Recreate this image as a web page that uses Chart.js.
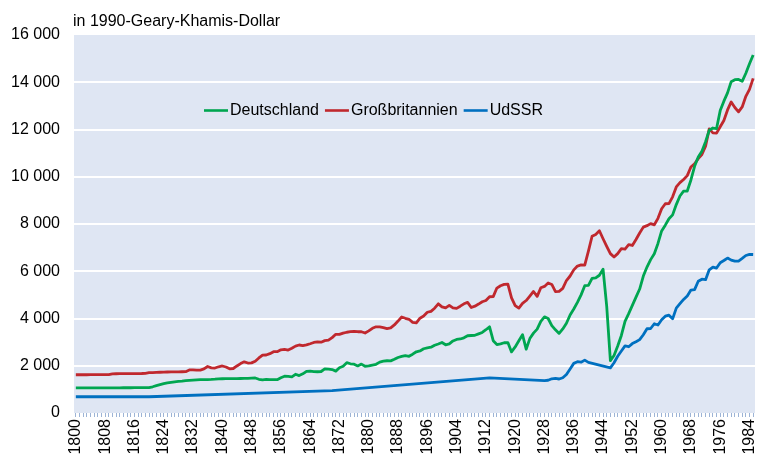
<!DOCTYPE html>
<html>
<head>
<meta charset="utf-8">
<script src="https://cdn.jsdelivr.net/npm/chart.js@4"></script>
<style>
  body { margin: 0; background: #fff; }
  canvas { display: block; }
</style>
</head>
<body>
<canvas id="myChart" width="758" height="459"></canvas>
<script>
// years 1800..1985, one category per year
const years = [];
for (let y = 1800; y <= 1985; y++) years.push(String(y));

// BIP pro Kopf, in 1990-Geary-Khamis-Dollar
const deutschland = [
  1060, 1060, 1060, 1060, 1060, 1062, 1062, 1062, 1062, 1065,   // 1800
  1065, 1065, 1065, 1068, 1068, 1068, 1070, 1070, 1072, 1075,   // 1810
  1077, 1110, 1158, 1200, 1240, 1271, 1295, 1318, 1335, 1350,   // 1820
  1370, 1384, 1395, 1405, 1410, 1412, 1415, 1420, 1430, 1445,   // 1830
  1450, 1452, 1455, 1455, 1458, 1460, 1462, 1468, 1475, 1483,   // 1840
  1428, 1400, 1419, 1414, 1414, 1410, 1491, 1556, 1546, 1532,   // 1850
  1639, 1583, 1657, 1764, 1774, 1754, 1746, 1757, 1869, 1858,   // 1860
  1839, 1773, 1914, 1982, 2132, 2083, 2066, 1992, 2069, 1978,   // 1870
  1991, 2027, 2063, 2152, 2194, 2212, 2205, 2272, 2350, 2395,   // 1880
  2428, 2400, 2489, 2592, 2627, 2719, 2759, 2784, 2869, 2921,   // 1890
  2985, 2888, 2925, 3050, 3114, 3133, 3183, 3269, 3281, 3290,   // 1900
  3348, 3408, 3524, 3648, 3059, 2899, 2926, 2973, 2983, 2586,   // 1910
  2796, 3055, 3315, 2700, 3150, 3380, 3550, 3880, 4070, 4000,   // 1920
  3700, 3520, 3370, 3560, 3800, 4150, 4400, 4680, 5000, 5390,   // 1930
  5400, 5700, 5720, 5830, 6090, 4514, 2217, 2436, 2834, 3282,   // 1940
  3881, 4206, 4553, 4905, 5247, 5797, 6177, 6492, 6737, 7177,   // 1950
  7705, 7952, 8222, 8386, 8822, 9186, 9388, 9397, 9864, 10440,  // 1960
  10839, 11077, 11481, 11966, 12063, 12041, 12800, 13200, 13550, 14025, // 1970
  14110, 14120, 14040, 14380, 14780, 15150                      // 1980
];

const grossbritannien = [
  1620, 1620, 1620, 1620, 1622, 1622, 1622, 1625, 1625, 1625,   // 1800
  1660, 1662, 1665, 1666, 1666, 1668, 1668, 1670, 1672, 1680,   // 1810
  1706, 1712, 1718, 1725, 1730, 1735, 1738, 1740, 1742, 1745,   // 1820
  1749, 1822, 1829, 1815, 1816, 1866, 1968, 1911, 1903, 1957,   // 1830
  1990, 1948, 1868, 1883, 1991, 2091, 2166, 2115, 2121, 2191,   // 1840
  2330, 2451, 2454, 2512, 2596, 2595, 2673, 2691, 2663, 2740,   // 1850
  2830, 2878, 2854, 2882, 2932, 2986, 3013, 2997, 3064, 3082,   // 1860
  3190, 3332, 3328, 3382, 3418, 3440, 3455, 3440, 3440, 3387,   // 1870
  3477, 3585, 3649, 3643, 3615, 3574, 3600, 3727, 3891, 4064,   // 1880
  4009, 3967, 3837, 3812, 4013, 4105, 4264, 4303, 4436, 4621,   // 1890
  4492, 4450, 4556, 4450, 4428, 4521, 4622, 4682, 4465, 4522,   // 1900
  4611, 4709, 4762, 4921, 4927, 5288, 5387, 5443, 5459, 4877,   // 1910
  4548, 4439, 4637, 4761, 4951, 5144, 4936, 5301, 5357, 5503,   // 1920
  5441, 5138, 5148, 5277, 5608, 5799, 6059, 6220, 6266, 6262,   // 1930
  6856, 7482, 7559, 7713, 7376, 7056, 6746, 6604, 6746, 6956,   // 1940
  6939, 7123, 7091, 7346, 7619, 7868, 7929, 8017, 7966, 8240,   // 1950
  8645, 8857, 8865, 9149, 9568, 9752, 9885, 10049, 10410, 10552, // 1960
  10767, 10941, 11294, 12025, 11859, 11847, 12115, 12384, 12828, 13167, // 1970
  12931, 12747, 12955, 13404, 13700, 14165                      // 1980
];

// gaps (null) are bridged by the line, as in the original
const udssr = [
  688, null, null, null, null, null, null, null, null, null,    // 1800
  null, null, null, null, null, null, null, null, null, null,   // 1810
  688, null, null, null, null, null, null, null, null, null,    // 1820
  null, null, null, null, null, null, null, null, null, null,   // 1830
  null, null, null, null, null, null, null, null, null, null,   // 1840
  null, null, null, null, null, null, null, null, null, null,   // 1850
  null, null, null, null, null, null, null, null, null, null,   // 1860
  943, null, null, null, null, null, null, null, null, null,    // 1870
  null, null, null, null, null, null, null, null, null, null,   // 1880
  null, null, null, null, null, null, null, null, null, null,   // 1890
  null, null, null, null, null, null, null, null, null, null,   // 1900
  null, null, null, 1488, null, null, null, null, null, null,   // 1910
  null, null, null, null, null, null, null, null, 1370, 1386,   // 1920
  1448, 1462, 1439, 1493, 1630, 1864, 2100, 2170, 2150, 2237,   // 1930
  2144, null, null, null, null, null, 1913, 2126, 2402, 2623,   // 1940
  2841, 2805, 2937, 3013, 3106, 3313, 3566, 3576, 3777, 3724,   // 1950
  3945, 4098, 4140, 3985, 4439, 4626, 4806, 4955, 5202, 5220,   // 1960
  5575, 5665, 5643, 6059, 6176, 6135, 6363, 6454, 6559, 6472,   // 1970
  6426, 6432, 6544, 6666, 6715, 6708                            // 1980
];

const FONT = '"Liberation Sans", Arial, sans-serif';
const unitLabel = 'in 1990-Geary-Khamis-Dollar';

function fmt(v) {
  return String(v).replace(/\B(?=(\d{3})+(?!\d))/g, ' ');
}

// plot background, unit text and the legend inside the plot
const decor = {
  id: 'decor',
  beforeDraw(chart) {
    const { ctx, chartArea: a } = chart;
    ctx.save();
    ctx.fillStyle = '#dfe6f3';
    ctx.fillRect(a.left, a.top, a.right - a.left, a.bottom - a.top);
    ctx.fillStyle = '#000';
    ctx.font = '16px ' + FONT;
    ctx.textBaseline = 'alphabetic';
    ctx.fillText(unitLabel, 73, 26);
    ctx.restore();
  },
  afterDatasetsDraw(chart) {
    const ctx = chart.ctx;
    ctx.save();
    ctx.font = '16px ' + FONT;
    ctx.textBaseline = 'middle';
    let x = 204;
    const y = 110.5;
    chart.data.datasets.forEach(ds => {
      ctx.strokeStyle = ds.borderColor;
      ctx.lineWidth = 2.6;
      ctx.beginPath();
      ctx.moveTo(x, y);
      ctx.lineTo(x + 24, y);
      ctx.stroke();
      ctx.fillStyle = '#000';
      ctx.fillText(ds.label, x + 26, y);
      x += 26 + ctx.measureText(ds.label).width + 6;
    });
    ctx.restore();
  }
};

new Chart(document.getElementById('myChart'), {
  type: 'line',
  data: {
    labels: years,
    datasets: [
      { label: 'Deutschland', data: deutschland, borderColor: '#00a650' },
      { label: 'Großbritannien', data: grossbritannien, borderColor: '#c0282e' },
      { label: 'UdSSR', data: udssr, borderColor: '#0070c0' }
    ]
  },
  options: {
    responsive: false,
    devicePixelRatio: 1,
    animation: false,
    spanGaps: true,
    elements: {
      point: { radius: 0 },
      line: { borderWidth: 2.8, tension: 0, borderJoinStyle: 'round' }
    },
    layout: { padding: { top: 35, right: 3, left: 0, bottom: 0 } },
    plugins: {
      legend: { display: false },
      tooltip: { enabled: false }
    },
    scales: {
      x: {
        offset: true,
        border: { display: false },
        grid: {
          drawOnChartArea: false,
          drawTicks: true,
          tickLength: 4,
          color: '#9db4d6',
          lineWidth: 1
        },
        ticks: {
          autoSkip: false,
          maxRotation: 90,
          minRotation: 90,
          padding: 2,
          color: '#000',
          font: { size: 16, family: FONT },
          callback: (v, i) => (i % 8 === 0 ? years[i] : '')
        },
        afterFit(s) {
          s.height = 46;
          s.paddingLeft = 0;
          s.paddingRight = 0;
        }
      },
      y: {
        min: 0,
        max: 16000,
        border: { display: false },
        grid: {
          drawTicks: false,
          lineWidth: 2,
          color: c => (c.tick.value === 0 || c.tick.value === 16000 ? 'rgba(0,0,0,0)' : '#ffffff')
        },
        ticks: {
          stepSize: 2000,
          padding: 14,
          color: '#000',
          font: { size: 16, family: FONT },
          callback: v => fmt(v)
        },
        afterFit(s) { s.width = 74; }
      }
    }
  },
  plugins: [decor]
});
</script>
</body>
</html>
